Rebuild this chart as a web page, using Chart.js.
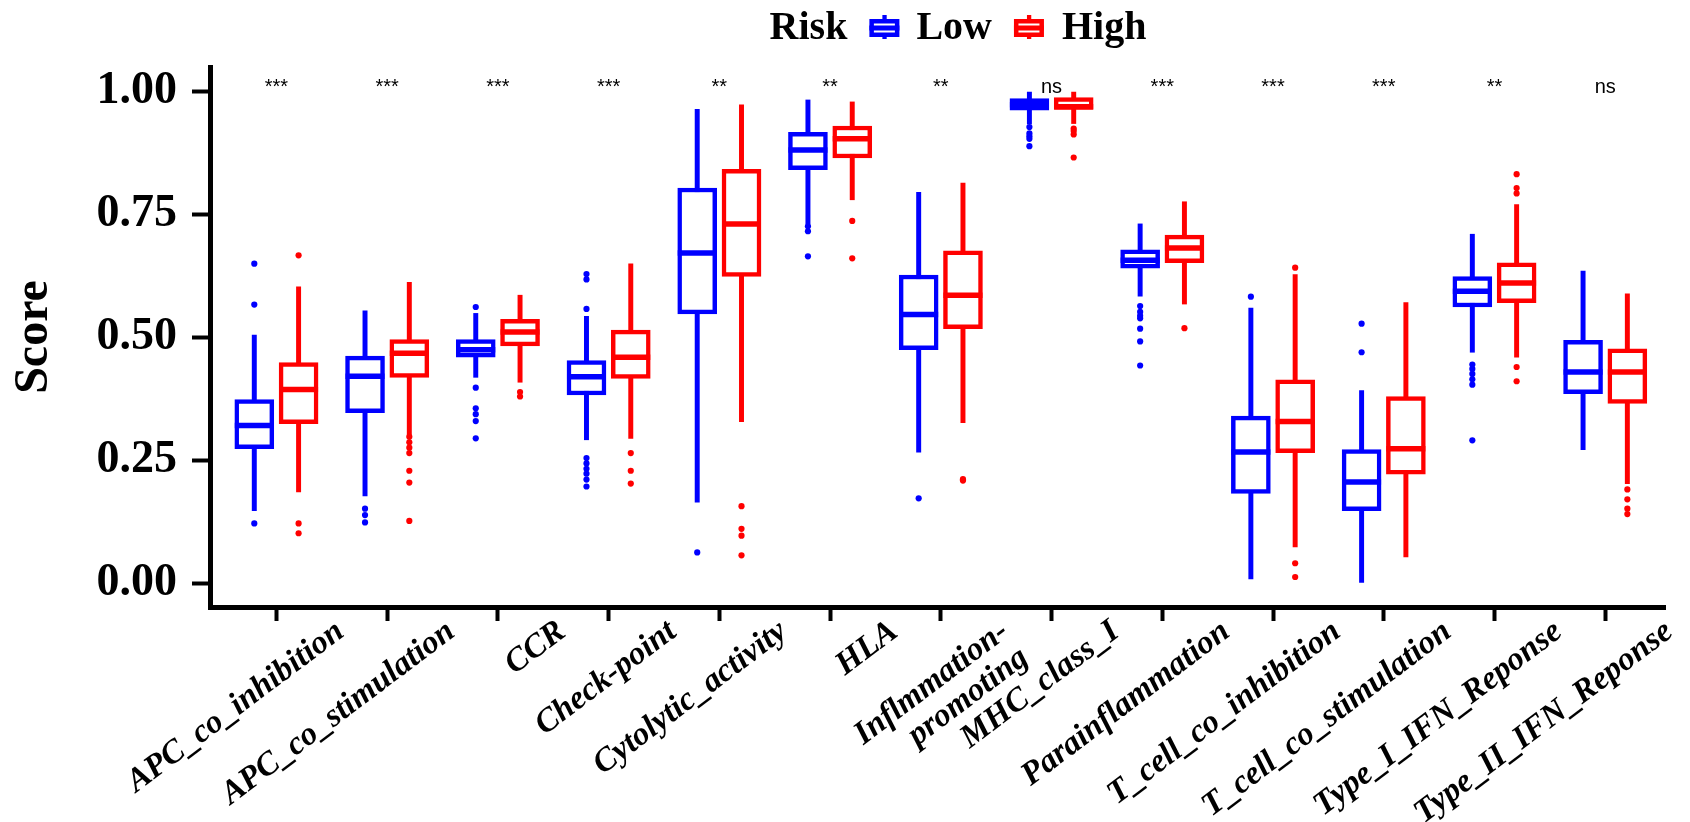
<!DOCTYPE html>
<html>
<head>
<meta charset="utf-8">
<script src="https://cdn.jsdelivr.net/npm/chart.js@4.4.1/dist/chart.umd.min.js"></script>
<style>
  html, body { margin: 0; padding: 0; background: #fff; }
  canvas { display: block; }
</style>
</head>
<body>
<canvas id="chart" width="1690" height="822"></canvas>
<script>
const categories = ["APC_co_inhibition", "APC_co_stimulation", "CCR", "Check-point", "Cytolytic_activity", "HLA",
  "Inflmmation-promoting", "MHC_class_I", "Parainflammation", "T_cell_co_inhibition", "T_cell_co_stimulation",
  "Type_I_IFN_Reponse", "Type_II_IFN_Reponse"];
const tickLabels = ["APC_co_inhibition", "APC_co_stimulation", "CCR", "Check-point", "Cytolytic_activity", "HLA",
  ["Inflmmation-", "promoting"], "MHC_class_I", "Parainflammation", "T_cell_co_inhibition", "T_cell_co_stimulation",
  "Type_I_IFN_Reponse", "Type_II_IFN_Reponse"];
const sigLabels = ["***", "***", "***", "***", "**", "**", "**", "ns", "***", "***", "***", "**", "ns"];
const yTicks = [0, 0.25, 0.5, 0.75, 1];

// Risk = Low
const lowMin    = [0.148, 0.178, 0.419, 0.292, 0.165, 0.731, 0.267, 0.934, 0.584, 0.009, 0.002, 0.470, 0.272];
const lowQ1     = [0.274, 0.347, 0.460, 0.383, 0.548, 0.841, 0.475, 0.962, 0.641, 0.183, 0.148, 0.562, 0.386];
const lowMedian = [0.321, 0.421, 0.475, 0.420, 0.672, 0.881, 0.547, 0.973, 0.657, 0.267, 0.206, 0.594, 0.430];
const lowQ3     = [0.374, 0.462, 0.496, 0.453, 0.804, 0.917, 0.627, 0.986, 0.678, 0.340, 0.272, 0.624, 0.494];
const lowMax    = [0.505, 0.554, 0.549, 0.543, 0.964, 0.983, 0.795, 0.999, 0.731, 0.560, 0.392, 0.710, 0.635];
const lowOutliers = [
  [0.650, 0.567, 0.122],
  [0.152, 0.139, 0.124],
  [0.562, 0.398, 0.356, 0.344, 0.330, 0.295],
  [0.629, 0.618, 0.558, 0.255, 0.244, 0.233, 0.223, 0.211, 0.197],
  [0.063],
  [0.726, 0.716, 0.665],
  [0.173],
  [0.928, 0.915, 0.909, 0.904, 0.889],
  [0.564, 0.552, 0.544, 0.539, 0.518, 0.492, 0.443],
  [0.583],
  [0.528, 0.470],
  [0.445, 0.436, 0.426, 0.415, 0.404, 0.291],
  []
];

// Risk = High
const highMin    = [0.186, 0.302, 0.409, 0.295, 0.329, 0.780, 0.327, 0.935, 0.568, 0.074, 0.054, 0.460, 0.203];
const highQ1     = [0.325, 0.419, 0.483, 0.417, 0.624, 0.865, 0.518, 0.964, 0.652, 0.266, 0.222, 0.571, 0.366];
const highMedian = [0.394, 0.468, 0.511, 0.460, 0.731, 0.904, 0.586, 0.969, 0.682, 0.329, 0.274, 0.611, 0.430];
const highQ3     = [0.449, 0.496, 0.537, 0.515, 0.842, 0.930, 0.676, 0.988, 0.708, 0.414, 0.380, 0.652, 0.477];
const highMax    = [0.603, 0.612, 0.586, 0.650, 0.973, 0.979, 0.814, 0.999, 0.776, 0.628, 0.571, 0.770, 0.589];
const highOutliers = [
  [0.667, 0.122, 0.102],
  [0.298, 0.287, 0.276, 0.265, 0.229, 0.205, 0.127],
  [0.389, 0.380],
  [0.265, 0.229, 0.203],
  [0.157, 0.111, 0.097, 0.057],
  [0.737, 0.661],
  [0.212, 0.209],
  [0.925, 0.920, 0.913, 0.866],
  [0.519],
  [0.642, 0.041, 0.013],
  [],
  [0.832, 0.804, 0.793, 0.440, 0.411],
  [0.191, 0.171, 0.152, 0.141]
];

const BLUE = "#0000ff";
const RED = "#ff0000";
const SERIF = "'Liberation Serif', 'Times New Roman', serif";
const DODGE = 0.2;

const range = (lo, hi, shift) => lo.map((v, i) => ({ x: i + shift, y: [v, hi[i]] }));
const points = (vals, shift) => vals.map((v, i) => ({ x: i + shift, y: v }));
const outPoints = (outs, shift) => outs.flatMap((arr, i) => arr.map(v => ({ x: i + shift, y: v })));

function boxSets(name, color, shift, min, q1, med, q3, max, outs) {
  return [
    { type: "scatter", label: name + " outliers", order: 0, data: outPoints(outs, shift),
      pointRadius: 3.1, pointBackgroundColor: color, pointBorderWidth: 0 },
    { type: "scatter", label: name + " median", order: 1, data: points(med, shift),
      pointStyle: "line", pointRadius: 19.5, pointBorderWidth: 5.5, pointBorderColor: color },
    { type: "bar", label: name, order: 2, data: range(q1, q3, shift), grouped: false,
      barThickness: 39, backgroundColor: "#fff", borderColor: color, borderWidth: 4.5, borderSkipped: false },
    { type: "bar", label: name + " whisker", order: 3, data: range(min, max, shift), grouped: false,
      barThickness: 4.3, backgroundColor: color, borderWidth: 0 }
  ];
}

const legendPlugin = {
  id: "riskLegend",
  afterDraw(chart) {
    const ctx = chart.ctx;
    ctx.save();
    ctx.font = "bold 40px " + SERIF;
    ctx.fillStyle = "#000";
    ctx.textBaseline = "alphabetic";
    const parts = [{ text: "Risk" }, { gap: 22 }, { icon: BLUE }, { gap: 17 }, { text: "Low" },
      { gap: 22 }, { icon: RED }, { gap: 18 }, { text: "High" }];
    const widthOf = p => p.text ? ctx.measureText(p.text).width : p.icon ? 30 : p.gap;
    const total = parts.reduce((a, p) => a + widthOf(p), 0);
    let x = 958 - total / 2;
    const base = 39;
    parts.forEach(p => {
      if (p.text) {
        ctx.fillText(p.text, x, base);
      } else if (p.icon) {
        ctx.fillStyle = p.icon;
        ctx.fillRect(x + 13, 15, 4.3, 24);
        ctx.fillStyle = "#fff";
        ctx.fillRect(x, 19, 30, 18);
        ctx.strokeStyle = p.icon;
        ctx.lineWidth = 4.5;
        ctx.strokeRect(x + 2.25, 21.25, 25.5, 13.5);
        ctx.fillStyle = p.icon;
        ctx.fillRect(x, 25.5, 30, 5);
        ctx.fillStyle = "#000";
      }
      x += widthOf(p);
    });
    ctx.restore();
  }
};

const sigPlugin = {
  id: "sigLabels",
  afterDatasetsDraw(chart) {
    const ctx = chart.ctx;
    const xs = chart.scales.x, ys = chart.scales.y;
    ctx.save();
    ctx.font = "20px 'Liberation Sans', Arial, sans-serif";
    ctx.fillStyle = "#000";
    ctx.textAlign = "center";
    ctx.textBaseline = "alphabetic";
    sigLabels.forEach((s, i) => {
      ctx.fillText(s, xs.getPixelForValue(i), ys.getPixelForValue(0.9966));
    });
    ctx.restore();
  }
};

new Chart(document.getElementById("chart"), {
  type: "bar",
  data: {
    datasets: [
      ...boxSets("Low", BLUE, -DODGE, lowMin, lowQ1, lowMedian, lowQ3, lowMax, lowOutliers),
      ...boxSets("High", RED, DODGE, highMin, highQ1, highMedian, highQ3, highMax, highOutliers)
    ]
  },
  options: {
    responsive: false,
    animation: false,
    events: [],
    layout: { padding: { top: 67, left: 0, right: 0, bottom: 0 } },
    plugins: { legend: { display: false }, tooltip: { enabled: false } },
    scales: {
      x: {
        type: "linear",
        min: -0.6,
        max: 12.54,
        offset: false,
        afterBuildTicks: s => { s.ticks = categories.map((c, i) => ({ value: i })); },
        afterFit: s => { s.height = 215; },
        grid: { drawOnChartArea: false, drawTicks: true, tickLength: 14, tickWidth: 4, tickColor: "#000", offset: false },
        border: { display: true, width: 5, color: "#000" },
        ticks: {
          autoSkip: false, minRotation: 37, maxRotation: 37, labelOffset: 64, padding: -6, color: "#000",
          font: { family: SERIF, size: 33, weight: "bold", style: "italic", lineHeight: 1.0 },
          callback: v => tickLabels[v]
        }
      },
      y: {
        type: "linear",
        min: -0.048,
        max: 1.05,
        afterBuildTicks: s => { s.ticks = yTicks.map(v => ({ value: v })); },
        afterFit: s => { s.width = 210; },
        grid: { drawOnChartArea: false, drawTicks: true, tickLength: 18, tickWidth: 4, tickColor: "#000" },
        border: { display: true, width: 5, color: "#000" },
        ticks: {
          padding: 15, color: "#000",
          font: { family: SERIF, size: 46, weight: "bold" },
          callback: v => v.toFixed(2)
        },
        title: {
          display: true, text: "Score", color: "#000", padding: { top: 6, bottom: 0 },
          font: { family: SERIF, size: 48, weight: "bold" }
        }
      }
    }
  },
  plugins: [sigPlugin, legendPlugin]
});
</script>
</body>
</html>
